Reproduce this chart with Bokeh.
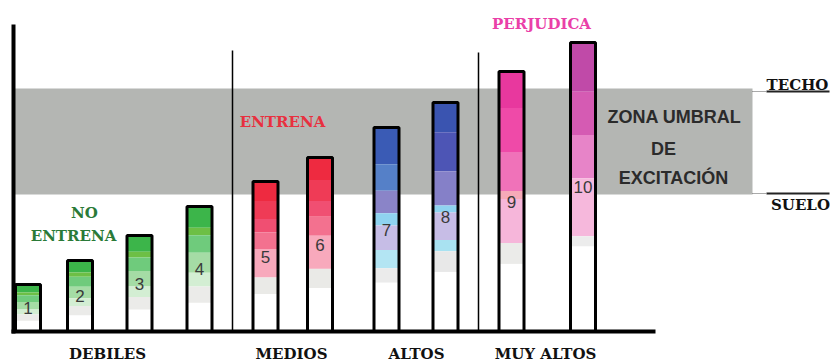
from bokeh.plotting import figure
from bokeh.embed import file_html
from bokeh.resources import INLINE
from bokeh.core.properties import value
from bokeh.models import ColumnDataSource

# ---- data -------------------------------------------------------------
categories = ["DEBILES", "MEDIOS", "ALTOS", "MUY ALTOS"]
bar_labels = ["1", "2", "3", "4", "5", "6", "7", "8", "9", "10"]
bar_group = [0, 0, 0, 0, 1, 1, 2, 2, 3, 3]
bar_values = [47, 71, 96, 125, 150, 174, 204, 229, 260, 289]
suelo = 137   # floor of the excitation threshold zone
techo = 243   # ceiling of the excitation threshold zone
zone_text = ["ZONA UMBRAL", "DE", "EXCITACIÓN"]
effect_no = ["NO", "ENTRENA"]
effect_si = "ENTRENA"
effect_harm = "PERJUDICA"

# ---- layout / style ---------------------------------------------------
W, H = 830, 363
bar_x = [27.5, 79.5, 139, 199, 265, 319.5, 386, 445, 511, 582.5]
bar_w = 25
group_label_x = [107, 291, 416, 545]
separators = [(232, 281), (478, 279)]
axis_x = 13
base_right = 655
band_right = 752

# colour ramps drawn from the top of each bar downwards (fraction, colour)
green = [(0.17, "#3cb54a"), (0.06, "#6dbf45"), (0.14, "#6fcb7c"),
         (0.16, "#a5dca5"), (0.11, "#d3eed3"), (0.13, "#ebebe9")]
red = [(0.13, "#ee2a40"), (0.12, "#ef3b56"), (0.09, "#f04f72"),
       (0.11, "#f3718f"), (0.19, "#f8a9bc"), (0.11, "#eaeae7")]
ramps = [
    green, green, green, green, red, red,
    [(0.18, "#3a5bb5"), (0.13, "#5580c8"), (0.11, "#8a84c8"), (0.06, "#8fd3f0"),
     (0.12, "#c6bde6"), (0.09, "#b3e5f3"), (0.07, "#ebebeb")],
    [(0.13, "#3a54b0"), (0.17, "#4d55b5"), (0.15, "#8580c8"), (0.03, "#8fd3f0"),
     (0.12, "#c7bde6"), (0.05, "#a9e2f1"), (0.09, "#e8e8e8")],
    [(0.14, "#e8389e"), (0.17, "#ef4aa8"), (0.15, "#f072b9"), (0.03, "#f7aab8"),
     (0.17, "#f6b6da"), (0.08, "#ebebe9")],
    [(0.17, "#c04aa8"), (0.15, "#d55bb3"), (0.15, "#e784c8"), (0.20, "#f6b8dc"),
     (0.035, "#ececec")],
]

serif = value("DejaVu Serif")
sans = value("Liberation Sans")

p = figure(width=W, height=H, x_range=(0, W), y_range=(-32, 331),
           x_axis_type=None, y_axis_type=None, toolbar_location=None,
           output_backend="svg", min_border=0)
p.outline_line_color = None
p.background_fill_color = "white"
p.border_fill_color = "white"

# threshold zone
p.quad(left=[axis_x], right=[band_right], bottom=[suelo], top=[techo],
       fill_color="#b4b6b3", line_color=None)

# group separators
for sx, top in separators:
    p.segment(x0=[sx], y0=[0], x1=[sx], y1=[top], line_color="black", line_width=1.5)

# bar colour bands
qs = dict(left=[], right=[], top=[], bottom=[], color=[])
for x, v, ramp in zip(bar_x, bar_values, ramps):
    qs["left"].append(x - bar_w / 2); qs["right"].append(x + bar_w / 2)
    qs["top"].append(v); qs["bottom"].append(0); qs["color"].append("white")
    top = v
    for frac, col in ramp:
        bot = top - frac * v
        qs["left"].append(x - bar_w / 2); qs["right"].append(x + bar_w / 2)
        qs["top"].append(top); qs["bottom"].append(bot); qs["color"].append(col)
        top = bot
p.quad(source=ColumnDataSource(qs), left="left", right="right", top="top",
       bottom="bottom", fill_color="color", line_color=None)

# bar outlines
p.quad(left=[x - bar_w / 2 for x in bar_x], right=[x + bar_w / 2 for x in bar_x],
       bottom=[0] * len(bar_values), top=bar_values, fill_color=None,
       line_color="black", line_width=3)

# bar numbers at mid height
p.text(x=bar_x, y=[v / 2 for v in bar_values], text=bar_labels,
       text_font=sans, text_font_size="17px", text_color="#3a3a3a",
       text_align="center", text_baseline="middle")

# axes lines
p.segment(x0=[axis_x], y0=[-2], x1=[axis_x], y1=[307], line_color="black", line_width=4)
p.segment(x0=[axis_x - 2], y0=[0], x1=[base_right], y1=[0], line_color="black", line_width=4)

# category labels under the baseline
p.text(x=group_label_x, y=[-13] * 4, text=categories, text_font=serif,
       text_font_style="bold", text_font_size="15px", text_color="#111111",
       text_align="center", text_baseline="top")

# effect labels
p.text(x=[84, 73], y=[119, 96], text=effect_no, text_font=serif,
       text_font_style="bold", text_font_size="15px", text_color="#2a7a38",
       text_align="center", text_baseline="middle")
p.text(x=[282], y=[210], text=[effect_si], text_font=serif,
       text_font_style="bold", text_font_size="15px", text_color="#e8303f",
       text_align="center", text_baseline="middle")
p.text(x=[541], y=[308], text=[effect_harm], text_font=serif,
       text_font_style="bold", text_font_size="15px", text_color="#ea40a8",
       text_align="center", text_baseline="middle")

# zone caption
p.text(x=[674, 663, 673], y=[215, 183, 154], text=zone_text, text_font=sans,
       text_font_style="bold", text_font_size="18px", text_color="#2b2b2b",
       text_align="center", text_baseline="middle")

# ceiling / floor markers
for yy in (techo - 3, suelo + 1):
    p.segment(x0=[band_right], y0=[yy], x1=[766], y1=[yy], line_color="#555555",
              line_width=1, line_dash="1 1")
    p.segment(x0=[766], y0=[yy], x1=[829], y1=[yy], line_color="#222222", line_width=2)
p.text(x=[797], y=[247], text=["TECHO"], text_font=serif, text_font_style="bold",
       text_font_size="15px", text_color="#111111", text_align="center",
       text_baseline="middle")
p.text(x=[800], y=[127], text=["SUELO"], text_font=serif, text_font_style="bold",
       text_font_size="15px", text_color="#111111", text_align="center",
       text_baseline="middle")

open("out.html", "w").write(file_html(p, INLINE))
